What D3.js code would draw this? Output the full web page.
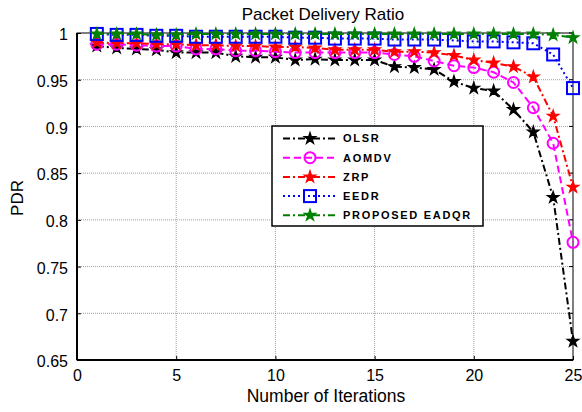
<!DOCTYPE html>
<html><head><meta charset="utf-8">
<script src="https://cdn.jsdelivr.net/npm/d3@7"></script>
<style>body{margin:0;background:#fff}svg{display:block}</style>
</head><body>
<svg id="c" width="582" height="412"></svg>
<script>
const iterations = d3.range(1, 26);
const olsr  = [0.986,0.984,0.983,0.982,0.979,0.979,0.979,0.975,0.974,0.974,0.971,0.972,0.971,0.971,0.971,0.964,0.963,0.961,0.948,0.941,0.938,0.918,0.894,0.824,0.670];
const aomdv = [0.988,0.988,0.987,0.986,0.986,0.983,0.983,0.981,0.981,0.980,0.979,0.979,0.979,0.979,0.979,0.977,0.975,0.970,0.965,0.963,0.958,0.947,0.920,0.882,0.776];
const zrp   = [0.990,0.989,0.989,0.988,0.988,0.987,0.987,0.986,0.986,0.985,0.985,0.984,0.982,0.982,0.982,0.980,0.980,0.979,0.976,0.971,0.968,0.964,0.953,0.911,0.835];
const eedr  = [0.999,0.998,0.998,0.997,0.997,0.996,0.996,0.996,0.996,0.996,0.995,0.995,0.994,0.994,0.994,0.993,0.993,0.993,0.992,0.991,0.991,0.990,0.989,0.977,0.941];
const eadqr = [0.999,0.999,0.999,0.998,0.998,0.999,0.999,0.999,0.999,0.999,0.999,0.999,0.999,0.999,0.999,0.999,0.999,0.999,0.999,0.999,0.999,0.999,0.999,0.998,0.995];
const seriesNames = ["OLSR","AOMDV","ZRP","EEDR","PROPOSED EADQR"];
const xTicks = [0,5,10,15,20,25];
const yTicks = [0.65,0.7,0.75,0.8,0.85,0.9,0.95,1];

const series = [
  {name: seriesNames[0], values: olsr,  color:"#000000", dash:"7,3,2,3", marker:"star"},
  {name: seriesNames[1], values: aomdv, color:"#ff00ff", dash:"7,4",     marker:"circle"},
  {name: seriesNames[2], values: zrp,   color:"#ff0000", dash:"7,3,2,3", marker:"star"},
  {name: seriesNames[3], values: eedr,  color:"#0000ff", dash:"2,3",     marker:"square"},
  {name: seriesNames[4], values: eadqr, color:"#008000", dash:"7,3,2,3", marker:"star"}
];

const svg = d3.select("#c");
const L = 77, T = 33, R = 573, B = 360;
const x = d3.scaleLinear().domain([0,25]).range([L,R]);
const y = d3.scaleLinear().domain([0.65,1]).range([B,T]);
const font = "Liberation Sans, Arial, sans-serif";

// grid
const g = svg.append("g");
g.selectAll(".gx").data(xTicks.slice(1,-1)).enter().append("line")
  .attr("x1",d=>x(d)).attr("x2",d=>x(d)).attr("y1",T).attr("y2",B)
  .attr("stroke","#888").attr("stroke-width",0.8).attr("stroke-dasharray","1,1");
g.selectAll(".gy").data(yTicks.slice(1,-1)).enter().append("line")
  .attr("y1",d=>y(d)).attr("y2",d=>y(d)).attr("x1",L).attr("x2",R)
  .attr("stroke","#888").attr("stroke-width",0.8).attr("stroke-dasharray","1,1");

// axes
const xa = svg.append("g").attr("transform",`translate(0,${B})`)
  .call(d3.axisBottom(x).tickValues(xTicks).tickSizeInner(-4).tickSizeOuter(0).tickPadding(10).tickFormat(d3.format("d")));
const ya = svg.append("g").attr("transform",`translate(${L},0)`)
  .call(d3.axisLeft(y).tickValues(yTicks).tickSizeInner(-4).tickSizeOuter(0).tickPadding(9).tickFormat(d=>d===1?"1":String(+d.toFixed(2))));
[xa,ya].forEach(a=>{
  a.select(".domain").remove();
  a.selectAll("text").attr("font-family",font).attr("font-size",16).attr("fill","#000");
  a.selectAll("line").attr("stroke","#000");
});
xa.selectAll("text").attr("dy","0.71em");
ya.selectAll("text").attr("dy","0.42em");
// top/right ticks
svg.append("g").selectAll("line").data(xTicks).enter().append("line")
  .attr("x1",d=>x(d)).attr("x2",d=>x(d)).attr("y1",T).attr("y2",T+4).attr("stroke","#000");
svg.append("g").selectAll("line").data(yTicks).enter().append("line")
  .attr("y1",d=>y(d)).attr("y2",d=>y(d)).attr("x1",R).attr("x2",R-4).attr("stroke","#000");

svg.append("rect").attr("x",L).attr("y",T).attr("width",R-L).attr("height",B-T)
  .attr("fill","none").attr("stroke","#000").attr("stroke-width",1);
svg.append("line").attr("x1",L).attr("x2",L).attr("y1",T).attr("y2",B).attr("stroke","#000").attr("stroke-width",2);
svg.append("line").attr("x1",L).attr("x2",R).attr("y1",B).attr("y2",B).attr("stroke","#000").attr("stroke-width",2);

function drawMarker(sel, s, cx, cy){
  if (s.marker==="star") {
    sel.append("path").attr("d", d3.symbol().type(d3.symbolStar).size(42)())
      .attr("transform",`translate(${cx},${cy})`).attr("fill",s.color).attr("stroke",s.color).attr("stroke-width",1.2);
  } else if (s.marker==="circle") {
    sel.append("circle").attr("cx",cx).attr("cy",cy).attr("r",5.5)
      .attr("fill","none").attr("stroke",s.color).attr("stroke-width",2);
  } else {
    sel.append("rect").attr("x",cx-6).attr("y",cy-6).attr("width",12).attr("height",12)
      .attr("fill","none").attr("stroke",s.color).attr("stroke-width",2);
  }
}

const line = d3.line().x((d,i)=>x(iterations[i])).y(d=>y(d));
series.forEach(s=>{
  const gs = svg.append("g");
  gs.append("path").attr("d",line(s.values)).attr("fill","none")
    .attr("stroke",s.color).attr("stroke-width",2).attr("stroke-dasharray",s.dash);
  s.values.forEach((v,i)=>drawMarker(gs,s,x(iterations[i]),y(v)));
});

// legend
const lg = svg.append("g");
lg.append("rect").attr("x",272).attr("y",126).attr("width",211).attr("height",100)
  .attr("fill","#fff").attr("stroke","#000").attr("stroke-width",1.5);
series.forEach((s,i)=>{
  const ly = 138.5 + i*19.2;
  lg.append("line").attr("x1",283).attr("x2",337).attr("y1",ly).attr("y2",ly)
    .attr("stroke",s.color).attr("stroke-width",2).attr("stroke-dasharray",s.dash);
  drawMarker(lg,s,310,ly);
  lg.append("text").attr("x",343).attr("y",ly).attr("dy","0.36em")
    .attr("font-family","Liberation Sans, Arial, sans-serif").attr("font-weight","bold")
    .attr("font-size",11).attr("letter-spacing",1.7).text(s.name);
});

// titles
svg.append("text").attr("x",323).attr("y",20).attr("text-anchor","middle")
  .attr("font-family",font).attr("font-size",17).text("Packet Delivery Ratio");
svg.append("text").attr("x",326).attr("y",402).attr("text-anchor","middle")
  .attr("font-family",font).attr("font-size",17.5).text("Number of Iterations");
svg.append("text").attr("transform","translate(23,198) rotate(-90)").attr("text-anchor","middle")
  .attr("font-family",font).attr("font-size",17).text("PDR");
</script>
</body></html>
